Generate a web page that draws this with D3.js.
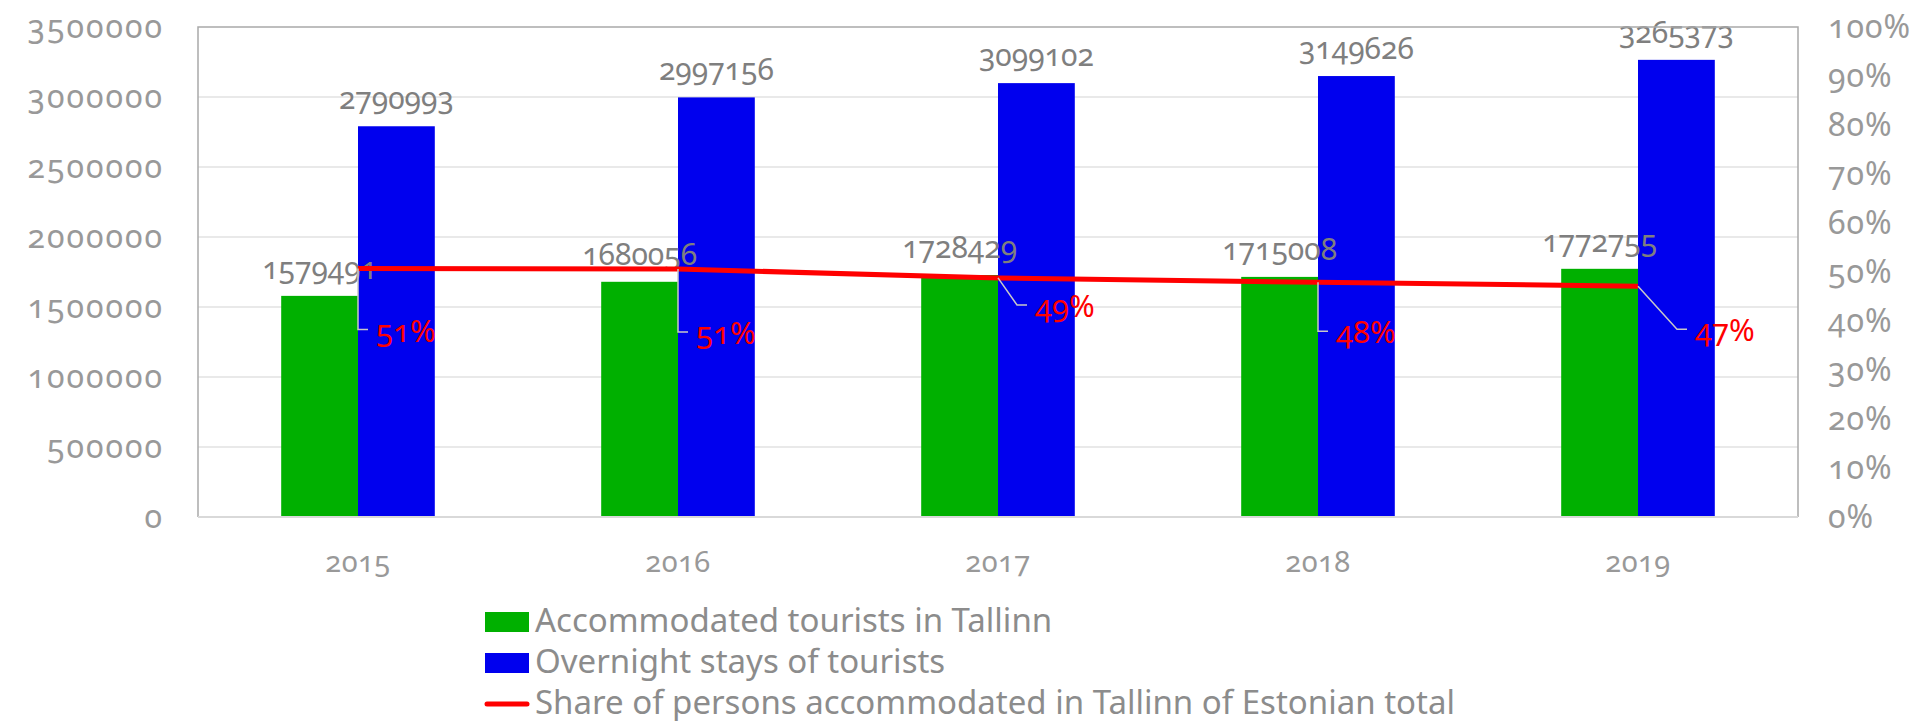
<!DOCTYPE html>
<html lang="en">
<head>
    <meta charset="UTF-8">
    <title>Tallinn tourists</title>
    <script src="https://cdn.jsdelivr.net/npm/d3@7"></script>
    <style>
        body { margin: 0; background: #fff; }
        svg text { font-family: "Noto Sans", "Open Sans", sans-serif; font-feature-settings: "onum" 1; }
    </style>
</head>
<body>
    <svg id="chart" width="1915" height="721"></svg>
    <script>
        // data
        var years = ["2015", "2016", "2017", "2018", "2019"];
        var accommodated = [1579491, 1680056, 1728429, 1715008, 1772755];
        var overnight = [2790993, 2997156, 3099102, 3149626, 3265373];
        var share = [0.507, 0.506, 0.488, 0.479, 0.471];
        var leftTicks = [0, 500000, 1000000, 1500000, 2000000, 2500000, 3000000, 3500000];
        var rightTicks = [0, 0.1, 0.2, 0.3, 0.4, 0.5, 0.6, 0.7, 0.8, 0.9, 1];
        var seriesNames = ["Accommodated tourists in Tallinn", "Overnight stays of tourists",
            "Share of persons accommodated in Tallinn of Estonian total"];

        // leader line layout for the % labels: [elbow dx, elbow dy]
        var leaderOffsets = [[0, 61], [0, 63], [19, 27], [0, 49], [39, 43]];

        var plotL = 198, plotR = 1798, plotT = 27, plotB = 517;
        var svg = d3.select("#chart");

        var x0 = d3.scaleBand().domain(years).range([plotL, plotR]).paddingInner(0.52).paddingOuter(0.26);
        var x1 = d3.scaleBand().domain(["acc", "over"]).range([0, x0.bandwidth()]);
        var yL = d3.scaleLinear().domain([0, 3500000]).range([plotB, plotT]);
        var yR = d3.scaleLinear().domain([0, 1]).range([plotB, plotT]);

        // gridlines
        svg.append("g").selectAll("line").data(leftTicks.slice(1, -1)).join("line")
            .attr("x1", plotL).attr("x2", plotR)
            .attr("y1", d => yL(d)).attr("y2", d => yL(d))
            .attr("stroke", "#e2e2e2").attr("stroke-width", 1.5);

        // bars
        var groups = svg.append("g").selectAll("g").data(years).join("g")
            .attr("transform", d => "translate(" + x0(d) + ",0)");
        groups.append("rect")
            .attr("x", x1("acc")).attr("width", x1.bandwidth())
            .attr("y", (d, i) => yL(accommodated[i])).attr("height", (d, i) => plotB - yL(accommodated[i]))
            .attr("fill", "#00b000");
        groups.append("rect")
            .attr("x", x1("over")).attr("width", x1.bandwidth())
            .attr("y", (d, i) => yL(overnight[i])).attr("height", (d, i) => plotB - yL(overnight[i]))
            .attr("fill", "#0000ee");

        // plot border
        svg.append("path")
            .attr("d", "M" + plotL + "," + plotB + "V" + plotT + "H" + plotR + "V" + plotB)
            .attr("fill", "none").attr("stroke", "#a9a9a9").attr("stroke-width", 1.5);
        svg.append("line").attr("x1", plotL).attr("x2", plotR).attr("y1", plotB).attr("y2", plotB)
            .attr("stroke", "#d9d9d9").attr("stroke-width", 2);

        // share line
        var cx = d => x0(d) + x0.bandwidth() / 2;
        var line = d3.line().x((d, i) => cx(years[i])).y(d => yR(d));
        svg.append("path").datum(share).attr("d", line)
            .attr("fill", "none").attr("stroke", "#ff0000").attr("stroke-width", 5);

        // bar value labels
        var numFmt = d3.format("d");
        groups.append("text")
            .attr("x", x1("acc") + x1.bandwidth() / 2)
            .attr("y", (d, i) => yL(accommodated[i]) - 17)
            .attr("text-anchor", "middle").attr("font-size", 30).attr("fill", "#7f7f7f")
            .text((d, i) => numFmt(accommodated[i]));
        groups.append("text")
            .attr("x", x1("over") + x1.bandwidth() / 2)
            .attr("y", (d, i) => yL(overnight[i]) - 17)
            .attr("text-anchor", "middle").attr("font-size", 30).attr("fill", "#7f7f7f")
            .text((d, i) => numFmt(overnight[i]));

        // % labels with leader lines
        var pctFmt = d3.format(".0%");
        var pl = svg.append("g").selectAll("g").data(share).join("g");
        pl.append("path")
            .attr("d", (d, i) => {
                var px = cx(years[i]), py = yR(d), o = leaderOffsets[i];
                return "M" + px + "," + py + "L" + (px + o[0]) + "," + (py + o[1]) + "h10";
            })
            .attr("fill", "none").attr("stroke", "#c8c8c8").attr("stroke-width", 1.5);
        pl.append("text")
            .attr("x", (d, i) => cx(years[i]) + leaderOffsets[i][0] + 18)
            .attr("y", (d, i) => yR(d) + leaderOffsets[i][1] + 12)
            .attr("font-size", 31).attr("fill", "#ff0000")
            .text(d => pctFmt(d));

        // axes
        var axL = svg.append("g").attr("transform", "translate(" + plotL + ",0)")
            .call(d3.axisLeft(yL).tickValues(leftTicks).tickFormat(numFmt).tickSize(0).tickPadding(34));
        var axR = svg.append("g").attr("transform", "translate(" + plotR + ",0)")
            .call(d3.axisRight(yR).tickValues(rightTicks).tickFormat(pctFmt).tickSize(0).tickPadding(30));
        var axB = svg.append("g").attr("transform", "translate(0," + plotB + ")")
            .call(d3.axisBottom(x0).tickSize(0).tickPadding(0));
        axB.selectAll("text").attr("y", 55).attr("dy", 0);
        [axL, axR, axB].forEach(a => {
            a.select(".domain").remove();
            a.selectAll("text").attr("fill", "#999999");
        });
        axL.selectAll("text").attr("font-size", 32).style("letter-spacing", "2px");
        axR.selectAll("text").attr("font-size", 32).style("letter-spacing", "1px");
        axB.selectAll("text").attr("font-size", 29).style("letter-spacing", "0.5px");

        // legend
        var lg = svg.append("g").attr("transform", "translate(485,0)");
        var rowY = [622, 663, 704];
        lg.append("rect").attr("x", 0).attr("y", rowY[0] - 10).attr("width", 44).attr("height", 20).attr("fill", "#00b000");
        lg.append("rect").attr("x", 0).attr("y", rowY[1] - 10).attr("width", 44).attr("height", 20).attr("fill", "#0000ee");
        lg.append("line").attr("x1", 2).attr("x2", 42).attr("y1", rowY[2]).attr("y2", rowY[2])
            .attr("stroke", "#ff0000").attr("stroke-width", 5).attr("stroke-linecap", "round");
        lg.selectAll("text.leg").data(seriesNames).join("text").attr("class", "leg")
            .attr("x", 50).attr("y", (d, i) => rowY[i] + 10)
            .attr("font-size", 33).attr("fill", "#8c8c8c")
            .text(d => d);
    </script>
</body>
</html>
